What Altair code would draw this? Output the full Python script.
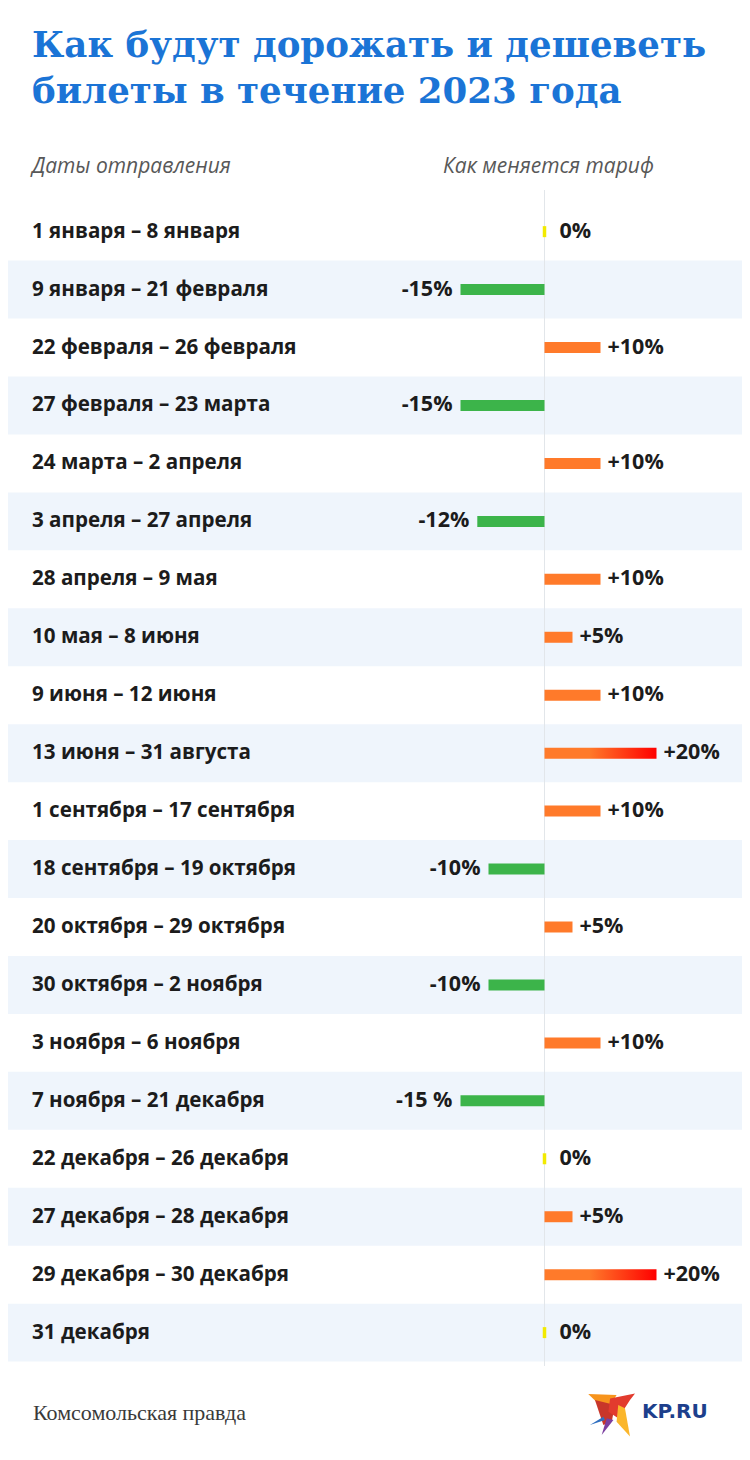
import altair as alt
import pandas as pd

# ---------------- data ----------------
periods = [
    "1 января – 8 января",
    "9 января – 21 февраля",
    "22 февраля – 26 февраля",
    "27 февраля – 23 марта",
    "24 марта – 2 апреля",
    "3 апреля – 27 апреля",
    "28 апреля – 9 мая",
    "10 мая – 8 июня",
    "9 июня  – 12 июня",
    "13 июня – 31 августа",
    "1 сентября – 17 сентября",
    "18 сентября – 19 октября",
    "20 октября – 29 октября",
    "30 октября – 2 ноября",
    "3 ноября – 6 ноября",
    "7 ноября – 21 декабря",
    "22 декабря – 26 декабря",
    "27 декабря – 28 декабря",
    "29 декабря – 30 декабря",
    "31 декабря",
]
changes = [0, -15, 10, -15, 10, -12, 10, 5, 10, 20, 10, -10, 5, -10, 10, -15, 0, 5, 20, 0]
value_labels = ["0%", "-15%", "+10%", "-15%", "+10%", "-12%", "+10%", "+5%", "+10%", "+20%",
                "+10%", "-10%", "+5%", "-10%", "+10%", "-15 %", "0%", "+5%", "+20%", "0%"]

title_lines = ["Как будут дорожать и дешеветь", "билеты в течение 2023 года"]
col_headers = ["Даты отправления", "Как меняется тариф"]
source_text = "Комсомольская правда"
logo_text = "KP.RU"

# ---------------- layout constants ----------------
W, H = 734, 1444
ROW_H = 58.35
TOP = 191.0
ZERO_PX = 536.5
PX_PER = 5.6

x_dom = [-ZERO_PX / PX_PER, (W - ZERO_PX) / PX_PER]
y_dom = [-TOP / ROW_H, (H - TOP) / ROW_H]

df = pd.DataFrame({
    "period": periods,
    "value": changes,
    "label": value_labels,
    "row": list(range(len(periods))),
})
df["center"] = df["row"] + 0.5
df["top"] = df["row"]
df["bottom"] = df["row"] + 1
df["zero"] = 0
df["stripe"] = df["row"] % 2

xs = alt.Scale(domain=x_dom, range=[0, W], nice=False, zero=False)
ys = alt.Scale(domain=y_dom, range=[0, H], nice=False, zero=False)

base = alt.Chart(df)

FONT = "Open Sans"
TXT = "#1c1c1c"

stripes = base.transform_filter("datum.stripe == 1").mark_rect(color="#eff5fc").encode(
    x=alt.value(0), x2=alt.value(W),
    y=alt.Y("top:Q", scale=ys, axis=None), y2="bottom:Q",
)

zero_line = alt.Chart(pd.DataFrame({"z": [0]})).mark_rule(color="#e2e6ea", strokeWidth=1).encode(
    x=alt.X("z:Q", scale=xs, axis=None),
    y=alt.value(182), y2=alt.value(TOP + ROW_H * len(periods)),
)

neg_bars = base.transform_filter("datum.value < 0").mark_bar(height=11, color="#3cb44a").encode(
    x=alt.X("value:Q", scale=xs, axis=None), x2="zero:Q",
    y=alt.Y("center:Q", scale=ys, axis=None),
)
pos_bars = base.transform_filter("datum.value > 0 && datum.value < 20").mark_bar(
    height=11, color="#ff7a2a").encode(
    x=alt.X("zero:Q", scale=xs, axis=None), x2="value:Q",
    y=alt.Y("center:Q", scale=ys, axis=None),
)
grad = alt.Gradient(
    gradient="linear",
    stops=[alt.GradientStop(color="#ff7a2a", offset=0),
           alt.GradientStop(color="#ff7a2a", offset=0.4),
           alt.GradientStop(color="#ff0000", offset=1)],
    x1=0, x2=1, y1=0, y2=0,
)
top_bars = base.transform_filter("datum.value >= 20").mark_bar(height=11, color=grad).encode(
    x=alt.X("zero:Q", scale=xs, axis=None), x2="value:Q",
    y=alt.Y("center:Q", scale=ys, axis=None),
)
zero_ticks = base.transform_filter("datum.value == 0").mark_tick(
    orient="vertical", size=11, thickness=3.5, color="#f2ea00", opacity=1).encode(
    x=alt.X("value:Q", scale=xs, axis=None),
    y=alt.Y("center:Q", scale=ys, axis=None),
)

period_text = base.mark_text(align="left", baseline="middle", font=FONT, fontSize=20.6,
                             fontWeight="bold", color=TXT).encode(
    x=alt.value(24),
    y=alt.Y("center:Q", scale=ys, axis=None),
    text="period:N",
)
neg_text = base.transform_filter("datum.value < 0").mark_text(
    align="right", baseline="middle", dx=-8, font=FONT, fontSize=21.5, fontWeight="bold",
    color=TXT).encode(
    x=alt.X("value:Q", scale=xs, axis=None),
    y=alt.Y("center:Q", scale=ys, axis=None),
    text="label:N",
)
pos_text = base.transform_filter("datum.value > 0").mark_text(
    align="left", baseline="middle", dx=7, font=FONT, fontSize=21.5, fontWeight="bold",
    color=TXT).encode(
    x=alt.X("value:Q", scale=xs, axis=None),
    y=alt.Y("center:Q", scale=ys, axis=None),
    text="label:N",
)
zero_text = base.transform_filter("datum.value == 0").mark_text(
    align="left", baseline="middle", dx=15, font=FONT, fontSize=21.5, fontWeight="bold",
    color=TXT).encode(
    x=alt.X("value:Q", scale=xs, axis=None),
    y=alt.Y("center:Q", scale=ys, axis=None),
    text="label:N",
)

def fixed_text(txt, x, y, **kw):
    return alt.Chart(pd.DataFrame({"t": [txt]})).mark_text(**kw).encode(
        x=alt.value(x), y=alt.value(y), text="t:N")

title1 = fixed_text(title_lines[0], 24, 49, align="left", baseline="alphabetic",
                    font="DejaVu Serif", fontSize=35.6, fontWeight="bold", color="#1b74d6")
title2 = fixed_text(title_lines[1], 24, 95, align="left", baseline="alphabetic",
                    font="DejaVu Serif", fontSize=35.6, fontWeight="bold", color="#1b74d6")
head1 = fixed_text(col_headers[0], 24, 165, align="left", baseline="alphabetic",
                   font=FONT, fontSize=21, fontStyle="italic", color="#585858")
head2 = fixed_text(col_headers[1], 435, 165, align="left", baseline="alphabetic",
                   font=FONT, fontSize=21, fontStyle="italic", color="#585858")
source = fixed_text(source_text, 25, 1412, align="left", baseline="alphabetic",
                    font="Liberation Serif", fontSize=22, color="#3a3a3a")
logo = fixed_text(logo_text, 634, 1410, align="left", baseline="alphabetic",
                  font="DejaVu Sans", fontSize=20, fontWeight="bold", color="#1d3f8c")

# bird logo pieces (unit-square symbol paths)
bird_parts = [
    ("M-0.99,-0.88 L0.19,-0.83 L-0.22,-0.14 Z", "#f7941d"),
    ("M-0.71,-0.62 L0.12,-0.42 L-0.01,0.28 L-0.36,0.42 Z", "#c8362a"),
    ("M-0.08,-0.69 L0.96,-0.9 L0.75,-0.62 L0.26,0.14 L-0.15,-0.14 Z", "#e23b2e"),
    ("M0.26,-0.42 L0.54,-0.28 L0.75,0.9 L0.19,0.28 Z", "#fbb62b"),
    ("M-0.22,0.14 L0.06,0.21 L-0.43,0.83 Z", "#7b3fa0"),
    ("M-0.92,0.42 L-0.36,0.07 L-0.29,0.21 Z", "#2f6fc0"),
]
bird_layers = []
for path, col in bird_parts:
    bird_layers.append(
        alt.Chart(pd.DataFrame({"p": [0]})).mark_point(
            shape=path, filled=True, size=2304, color=col, opacity=1, strokeWidth=0).encode(
            x=alt.value(604), y=alt.value(1407))
    )

chart = alt.layer(
    stripes, zero_line, neg_bars, pos_bars, top_bars, zero_ticks,
    period_text, neg_text, pos_text, zero_text,
    title1, title2, head1, head2, source, logo, *bird_layers,
).properties(
    width=W, height=H, autosize=alt.AutoSizeParams(type="none"), padding=0,
).configure(background="white", view=alt.ViewConfig(stroke=None))

chart.save("out.html", embed_options={"renderer": "svg", "actions": False})
